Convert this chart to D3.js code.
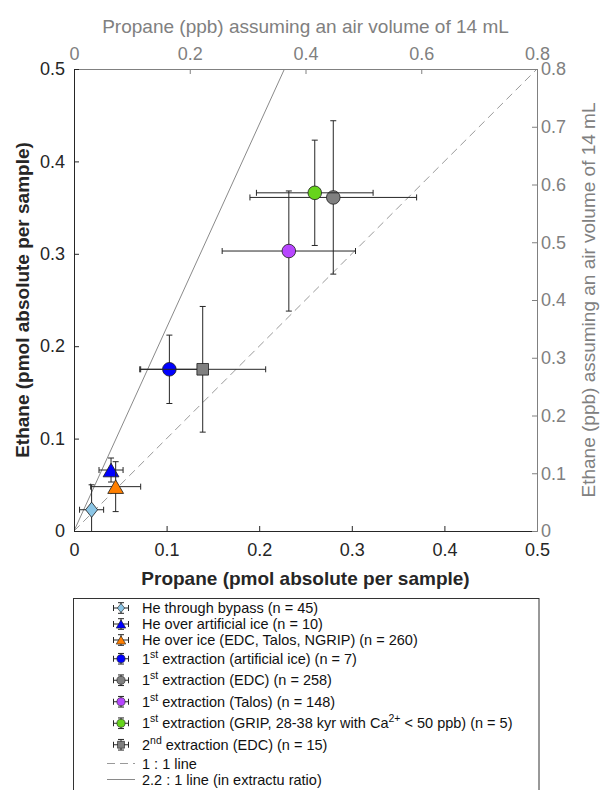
<!DOCTYPE html>
<html>
<head>
<meta charset="utf-8">
<script src="https://cdn.jsdelivr.net/npm/d3@7"></script>
<style>
  body { margin: 0; background: #fff; }
  svg { font-family: "Liberation Sans", Arial, Helvetica, sans-serif; }
  text { white-space: pre; }
</style>
</head>
<body>
<div id="chart"></div>
<script>

// values, pmol absolute per sample
var labels = [
  "He through bypass (n = 45)",
  "He over artificial ice (n = 10)",
  "He over ice (EDC, Talos, NGRIP) (n = 260)",
  "1^{st} extraction (artificial ice) (n = 7)",
  "1^{st} extraction (EDC) (n = 258)",
  "1^{st} extraction (Talos) (n = 148)",
  "1^{st} extraction (GRIP, 28-38 kyr with Ca^{2+} < 50 ppb) (n = 5)",
  "2^{nd} extraction (EDC) (n = 15)"
];
var propane    = [0.019, 0.040, 0.045, 0.103, 0.280, 0.232, 0.260, 0.139];
var propaneErr = [0.013, 0.013, 0.027, 0.031, 0.090, 0.072, 0.063, 0.068];
var ethane     = [0.023, 0.066, 0.048, 0.175, 0.361, 0.303, 0.366, 0.175];
var ethaneErr  = [0.027, 0.013, 0.027, 0.037, 0.083, 0.065, 0.057, 0.068];

var symbols = ["diamond", "triangle", "triangle", "circle", "circle", "circle", "circle", "square"];
var colors  = ["#8cc6e6", "#0000ff", "#ff7f00", "#0000ff", "#808080", "#b746ff", "#66d41c", "#808080"];

var lineLabels = ["1 : 1 line", "2.2 : 1 line (in extractu ratio)"];
var lineSlopes = [1, 2.2];

var xTicks     = [0, 0.1, 0.2, 0.3, 0.4, 0.5];
var yTicks     = [0, 0.1, 0.2, 0.3, 0.4, 0.5];
var topTicks   = [0, 0.2, 0.4, 0.6, 0.8];
var rightTicks = [0, 0.1, 0.2, 0.3, 0.4, 0.5, 0.6, 0.7, 0.8];

var W = 600, H = 790;
var pL = 74, pR = 537, pT = 69, pB = 531;
var dark = "#262626", grey = "#808080";

var svg = d3.select("#chart").append("svg")
    .attr("width", W).attr("height", H);

var x = d3.scaleLinear().domain([0, 0.5]).range([pL, pR]);
var y = d3.scaleLinear().domain([0, 0.5]).range([pB, pT]);
var xTop = d3.scaleLinear().domain([0, 0.8]).range([pL, pR]);
var yRight = d3.scaleLinear().domain([0, 0.8]).range([pB, pT]);

svg.append("clipPath").attr("id", "plotclip")
  .append("rect").attr("x", pL).attr("y", pT)
  .attr("width", pR - pL).attr("height", pB - pT);

// marker shapes, s = scale
function markerPath(type, s) {
  var p = d3.path();
  if (type == "circle") {
    p.arc(0, 0, 6.8 * s, 0, 2 * Math.PI);
  } else if (type == "square") {
    var h = 5.8 * s;
    p.rect(-h, -h, 2 * h, 2 * h);
  } else if (type == "triangle") {
    var w = 7.9 * s, t = 6.8 * s;
    p.moveTo(0, -t); p.lineTo(w, t); p.lineTo(-w, t); p.closePath();
  } else if (type == "diamond") {
    var dw = 6 * s, dh = 7.6 * s;
    p.moveTo(0, -dh); p.lineTo(dw, 0); p.lineTo(0, dh); p.lineTo(-dw, 0); p.closePath();
  }
  return p.toString();
}

function richText(sel, str) {
  var parts = str.split(/\^\{([^}]*)\}/);
  var shift = 0;
  parts.forEach(function(p, i) {
    if (p === "") return;
    var sup = i % 2 == 1;
    var target = sup ? -6 : 0;
    sel.append("tspan")
      .attr("dy", target - shift)
      .attr("font-size", sup ? "10.5px" : null)
      .text(p);
    shift = target;
  });
}

// reference lines
var plot = svg.append("g").attr("clip-path", "url(#plotclip)");
plot.selectAll("line.ref")
  .data(lineSlopes)
  .enter().append("line")
  .attr("class", "ref")
  .attr("x1", x(0)).attr("y1", y(0))
  .attr("x2", function(d) { return x(Math.min(0.5, 0.5 / d)); })
  .attr("y2", function(d) { return y(Math.min(0.5, 0.5 / d) * d); })
  .attr("stroke", function(d, i) { return i == 0 ? "#9a9a9a" : "#8a8a8a"; })
  .attr("stroke-width", 1)
  .attr("stroke-dasharray", function(d, i) { return i == 0 ? "8,5" : null; });

// axes
function styleAxis(g, col) {
  g.select(".domain").attr("stroke", col);
  g.selectAll(".tick line").attr("stroke", col);
  g.selectAll(".tick text").attr("fill", col)
    .attr("font-size", "18px")
    .attr("font-family", "Liberation Sans, Arial, sans-serif");
}

var fmt = function(d) { return String(+d.toFixed(2)); };

svg.append("g").attr("transform", "translate(0," + pB + ")")
  .call(d3.axisBottom(x).tickValues(xTicks).tickFormat(fmt)
        .tickSizeInner(-5).tickSizeOuter(0).tickPadding(12))
  .call(styleAxis, dark);

svg.append("g").attr("transform", "translate(0," + pT + ")")
  .call(d3.axisTop(xTop).tickValues(topTicks).tickFormat(fmt)
        .tickSizeInner(-5).tickSizeOuter(0).tickPadding(9))
  .call(styleAxis, grey);

svg.append("g").attr("transform", "translate(" + pL + ",0)")
  .call(d3.axisLeft(y).tickValues(yTicks).tickFormat(fmt)
        .tickSizeInner(-5).tickSizeOuter(0).tickPadding(9))
  .call(styleAxis, dark);

svg.append("g").attr("transform", "translate(" + pR + ",0)")
  .call(d3.axisRight(yRight).tickValues(rightTicks).tickFormat(fmt)
        .tickSizeInner(-5).tickSizeOuter(0).tickPadding(4))
  .call(styleAxis, grey);

// axis titles
svg.append("text")
  .attr("x", (pL + pR) / 2).attr("y", 585)
  .attr("text-anchor", "middle").attr("font-size", "19px").attr("font-weight", "bold")
  .attr("fill", dark)
  .text("Propane (pmol absolute per sample)");

svg.append("text")
  .attr("transform", "translate(29," + ((pT + pB) / 2) + ") rotate(-90)")
  .attr("text-anchor", "middle").attr("font-size", "19px").attr("font-weight", "bold")
  .attr("fill", dark)
  .text("Ethane (pmol absolute per sample)");

svg.append("text")
  .attr("x", (pL + pR) / 2).attr("y", 33)
  .attr("text-anchor", "middle").attr("font-size", "19px")
  .attr("fill", grey)
  .text("Propane (ppb) assuming an air volume of 14 mL");

svg.append("text")
  .attr("transform", "translate(595," + ((pT + pB) / 2) + ") rotate(-90)")
  .attr("text-anchor", "middle").attr("font-size", "19px")
  .attr("fill", grey)
  .text("Ethane (ppb) assuming an air volume of 14 mL");

// error bars + markers
var cap = 3, barCol = "#262626";
var pts = plot.selectAll("g.pt")
  .data(labels)
  .enter().append("g").attr("class", "pt");

pts.each(function(d, i) {
  var g = d3.select(this);
  var cx = x(propane[i]), cy = y(ethane[i]);
  var x0 = x(propane[i] - propaneErr[i]), x1 = x(propane[i] + propaneErr[i]);
  var y0 = y(ethane[i] - ethaneErr[i]), y1 = y(ethane[i] + ethaneErr[i]);
  var segs = [
    [cx, y0, cx, y1], [cx - cap, y0, cx + cap, y0], [cx - cap, y1, cx + cap, y1],
    [x0, cy, x1, cy], [x0, cy - cap, x0, cy + cap], [x1, cy - cap, x1, cy + cap]
  ];
  g.selectAll("line").data(segs).enter().append("line")
    .attr("x1", function(s) { return s[0]; }).attr("y1", function(s) { return s[1]; })
    .attr("x2", function(s) { return s[2]; }).attr("y2", function(s) { return s[3]; })
    .attr("stroke", barCol).attr("stroke-width", 1);
  g.append("path")
    .attr("transform", "translate(" + cx + "," + cy + ")")
    .attr("d", markerPath(symbols[i], 1))
    .attr("fill", colors[i]).attr("stroke", "#1a1a1a").attr("stroke-width", 0.8);
});

// legend
var leg = svg.append("g");
leg.append("rect")
  .attr("x", 73.5).attr("y", 598.5).attr("width", 465.5).attr("height", 200)
  .attr("fill", "#fff").attr("stroke", "#333").attr("stroke-width", 1);

var rowH = function(str) { return str.indexOf("^{") >= 0 ? 21.5 : 16; };
var allRows = labels.concat(lineLabels);
var rowY = [], yy = 608;
allRows.forEach(function(s, i) {
  if (i > 0) yy += (rowH(allRows[i - 1]) + rowH(s)) / 2;
  rowY.push(yy);
});

var mx = 121;
labels.forEach(function(lab, i) {
  var g = leg.append("g").attr("transform", "translate(" + mx + "," + rowY[i] + ")");
  var segs = [
    [-7.5, 0, 7.5, 0], [-7.5, -3, -7.5, 3], [7.5, -3, 7.5, 3],
    [0, -5.3, 0, 5.3], [-3, -5.3, 3, -5.3], [-3, 5.3, 3, 5.3]
  ];
  g.selectAll("line").data(segs).enter().append("line")
    .attr("x1", function(s) { return s[0]; }).attr("y1", function(s) { return s[1]; })
    .attr("x2", function(s) { return s[2]; }).attr("y2", function(s) { return s[3]; })
    .attr("stroke", barCol).attr("stroke-width", 1);
  g.append("path").attr("d", markerPath(symbols[i], 0.6))
    .attr("fill", colors[i]).attr("stroke", "#1a1a1a").attr("stroke-width", 0.6);
  var t = leg.append("text")
    .attr("x", 142).attr("y", rowY[i] + 5)
    .attr("font-size", "14.5px").attr("fill", "#111");
  richText(t, lab);
});

lineLabels.forEach(function(lab, j) {
  var ry = rowY[labels.length + j];
  leg.append("line")
    .attr("x1", 107).attr("x2", 135).attr("y1", ry).attr("y2", ry)
    .attr("stroke", j == 0 ? "#9a9a9a" : "#8a8a8a")
    .attr("stroke-dasharray", lineSlopes[j] == 1 ? "8,5" : null);
  leg.append("text")
    .attr("x", 142).attr("y", ry + 5)
    .attr("font-size", "14.5px").attr("fill", "#111")
    .text(lab);
});

</script>
</body>
</html>
